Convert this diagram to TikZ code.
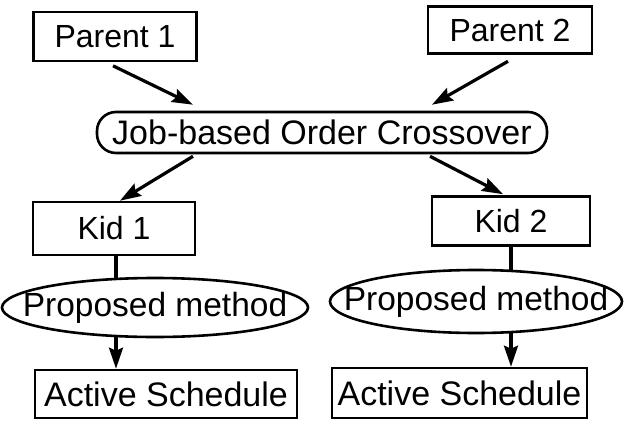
\documentclass[tikz,border=0pt]{standalone}
\usepackage{fontspec}
\setmainfont{Liberation Sans}
\usetikzlibrary{arrows.meta}
\begin{document}
\begin{tikzpicture}[x=1pt,y=-1pt,
  box/.style={draw,line width=2.6pt,inner sep=0pt,font=\fontsize{32}{36}\selectfont},
  ovaltext/.style={inner sep=0pt,font=\fontsize{33.5}{38}\selectfont},
  ovalline/.style={line width=2.6pt},
  pill/.style={draw,rounded corners=19pt,line width=2.6pt,inner sep=0pt,font=\fontsize{34}{38}\selectfont},
  arr/.style={line width=3.2pt,-{Stealth[length=21pt,width=14pt,inset=3pt]}},
  link/.style={line width=3.2pt}]
\useasboundingbox (0,0) rectangle (625,421);

% parents
\node[box,minimum width=163pt,minimum height=49pt] (p1) at (115,36.5) {Parent 1};
\node[box,minimum width=164pt,minimum height=47pt] (p2) at (510,30) {Parent 2};

% crossover operator
\node[pill,minimum width=450pt,minimum height=41pt] (joc) at (322,132.5) {Job-based Order Crossover};

% offspring
\node[box,minimum width=162pt,minimum height=53pt] (k1) at (114,228.5) {Kid 1};
\node[box,minimum width=158pt,minimum height=49pt] (k2) at (511,221) {Kid 2};

% repair step: text nodes with a hand-sized ellipse around each
\node[ovaltext] (m1) at (155,307.5) {Proposed method};
\node[ovaltext] (m2) at (476,301.5) {Proposed method};
\draw[ovalline] (m1.center) ellipse [x radius=153pt, y radius=29.5pt];
\draw[ovalline] (m2.center) ellipse [x radius=146pt, y radius=31.5pt];

% results
\node[box,font=\fontsize{34}{38}\selectfont,minimum width=262pt,minimum height=48pt] (a1) at (166,394) {Active Schedule};
\node[box,font=\fontsize{34}{38}\selectfont,minimum width=255pt,minimum height=50pt] (a2) at (459.5,393) {Active Schedule};

% connectors
\draw[arr] ([xshift=-2pt,yshift=-3.5pt]p1.south) -- ([xshift=-129pt,yshift=6pt]joc.north);
\draw[arr] ([xshift=-2pt,yshift=-6.5pt]p2.south) -- ([xshift=110pt,yshift=6pt]joc.north);
\draw[arr] ([xshift=-129pt,yshift=-2pt]joc.south) -- ([xshift=6pt,yshift=0pt]k1.north);
\draw[arr] ([xshift=108pt,yshift=-2pt]joc.south) -- ([xshift=-8pt,yshift=1pt]k2.north);

\coordinate (c1) at ([xshift=2pt]k1.south);
\coordinate (c2) at (k2.south);
\draw[link] (c1) -- ([yshift=28.5pt]c1 |- m1.center);
\draw[arr] ([yshift=-29.5pt]c1 |- m1.center) -- (c1 |- a1.north);
\draw[link] (c2) -- ([yshift=30.5pt]c2 |- m2.center);
\draw[arr] ([yshift=-31.5pt]c2 |- m2.center) -- (c2 |- a2.north);
\end{tikzpicture}
\end{document}
